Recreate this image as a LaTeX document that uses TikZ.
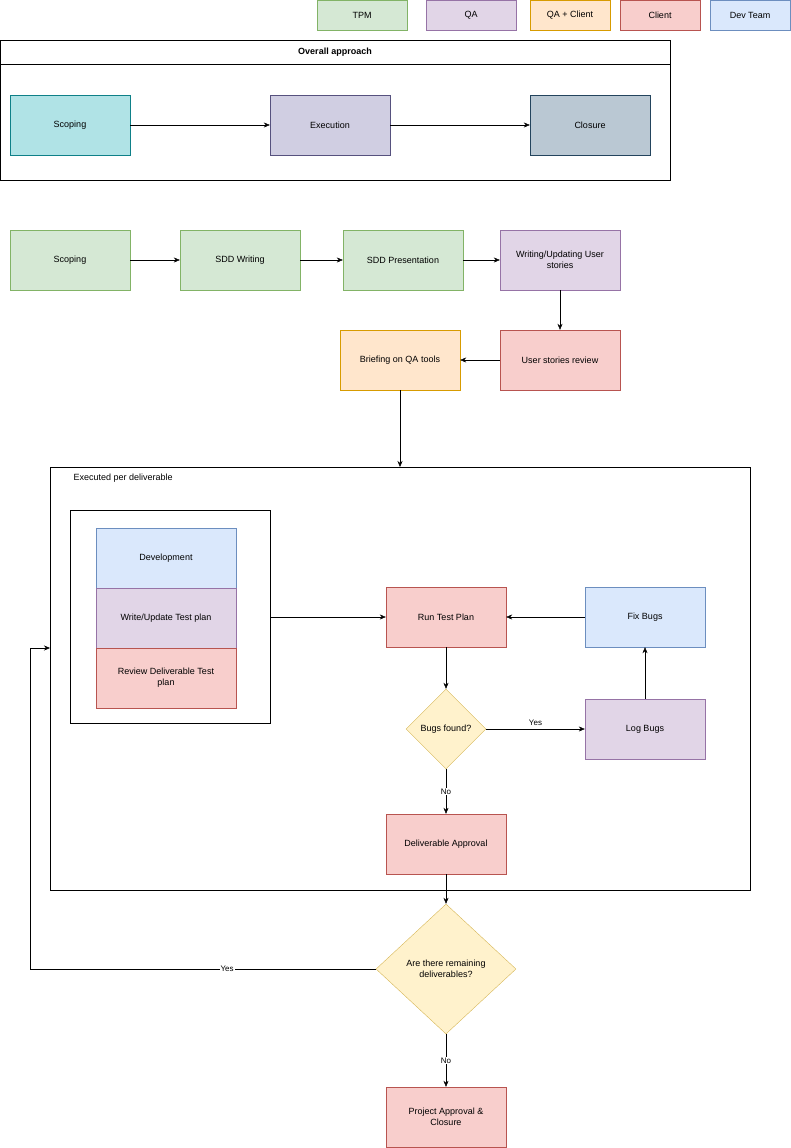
\documentclass[tikz,border=0pt]{standalone}
\usepackage{fontspec}
\setmainfont{Liberation Sans}
\usetikzlibrary{shapes.geometric,arrows.meta}
\definecolor{gF}{HTML}{D5E8D4}\definecolor{gS}{HTML}{82B366}
\definecolor{pF}{HTML}{E1D5E7}\definecolor{pS}{HTML}{9673A6}
\definecolor{oF}{HTML}{FFE6CC}\definecolor{oS}{HTML}{D79B00}
\definecolor{rF}{HTML}{F8CECC}\definecolor{rS}{HTML}{B85450}
\definecolor{bF}{HTML}{DAE8FC}\definecolor{bS}{HTML}{6C8EBF}
\definecolor{yF}{HTML}{FFF2CC}\definecolor{yS}{HTML}{D6B656}
\definecolor{tF}{HTML}{B0E3E6}\definecolor{tS}{HTML}{0E8088}
\definecolor{eF}{HTML}{D0CEE2}\definecolor{eS}{HTML}{56517E}
\definecolor{cF}{HTML}{BAC8D3}\definecolor{cS}{HTML}{23445D}
\tikzset{
 box/.style={draw=#1S,fill=#1F,minimum width=120pt,minimum height=60pt,align=center,inner sep=1pt,font=\fontsize{9pt}{11pt}\selectfont},
 leg/.style={draw=#1S,fill=#1F,minimum width=90pt,minimum height=30pt,font=\fontsize{9pt}{11pt}\selectfont},
 dia/.style={diamond,draw=yS,fill=yF,aspect=#1,inner sep=0pt,align=center,font=\fontsize{9pt}{11pt}\selectfont},
 arr/.style={-{Stealth[length=6pt,width=5pt]},black},
 lbl/.style={fill=white,inner sep=1pt,font=\fontsize{8pt}{10pt}\selectfont}
}
\begin{document}
\begin{tikzpicture}[x=1pt,y=-1pt]
\useasboundingbox (0,0) rectangle (791,1148);
% legend
\node[leg=g] (l1) at (362,15) {TPM};
\node[leg=p] (l2) at (471,15) {QA};
\node[leg=o,minimum width=80pt] (l3) at (570,15) {QA + Client};
\node[leg=r,minimum width=80pt] (l4) at (660,15) {Client};
\node[leg=b,minimum width=80pt] (l5) at (750,15) {Dev Team};
% overall
\draw (0,40) rectangle (670,180);
\draw (0,64) -- (670,64);
\node[font=\bfseries\fontsize{9pt}{11pt}\selectfont] (oa) at (335,52) {Overall approach};
\node[box=t] (s0) at (70,125) {Scoping};
\node[box=e] (e0) at (330,125) {Execution};
\node[box=c] (c0) at (590,125) {Closure};
\draw[arr] (s0) -- (e0); \draw[arr] (e0) -- (c0);
% row 2
\node[box=g] (s1) at (70,260) {Scoping};
\node[box=g] (s2) at (240,260) {SDD Writing};
\node[box=g] (s3) at (403,260) {SDD Presentation};
\node[box=p] (s4) at (560,260) {Writing/Updating User\\stories};
\node[box=r] (s5) at (560,360) {User stories review};
\node[box=o] (s6) at (400,360) {Briefing on QA tools};
\draw[arr] (s1) -- (s2); \draw[arr] (s2) -- (s3); \draw[arr] (s3) -- (s4);
\draw[arr] (s4) -- (s5); \draw[arr] (s5) -- (s6);
% container
\draw (50,467) rectangle (750,890);
\coordinate (ct) at (400,467);
\coordinate (cl) at (50,648);
\node[anchor=west,font=\fontsize{9pt}{11pt}\selectfont] (cap) at (70,478) {Executed per deliverable};
\draw[arr] (s6) -- (ct);
\node[draw,minimum width=200pt,minimum height=213pt] (inner) at (170,616.5) {};
\node[box=b,minimum width=140pt] (d1) at (166,558) {Development};
\node[box=p,minimum width=140pt] (d2) at (166,618) {Write/Update Test plan};
\node[box=r,minimum width=140pt] (d3) at (166,678) {Review Deliverable Test\\plan};
\node[box=r] (run) at (446,617) {Run Test Plan};
\node[box=b] (fix) at (645,617) {Fix Bugs};
\node[box=p] (log) at (645,729) {Log Bugs};
\node[dia=1,minimum width=80pt,minimum height=80pt] (bf) at (446,729) {Bugs found?};
\node[box=r] (da) at (446,844) {Deliverable Approval};
\draw[arr] (inner.east |- run) -- (run);
\draw[arr] (fix) -- (run);
\draw[arr] (run) -- (bf);
\draw[arr] (bf) -- node[lbl,pos=0.5,yshift=6pt]{Yes} (log);
\draw[arr] (log) -- (fix);
\draw[arr] (bf) -- node[lbl]{No} (da);
\node[dia=1.08,minimum width=140pt,minimum height=130pt] (rem) at (446,969) {Are there remaining\\deliverables?};
\node[box=r] (pa) at (446,1117) {Project Approval \&\\Closure};
\draw[arr] (da) -- (rem);
\draw[arr] (rem) -- node[lbl]{No} (pa);
\draw[arr] (rem.west) -- node[lbl,pos=0.43]{Yes} (30,969) -- (30,648) -- (cl);
\end{tikzpicture}
\end{document}
